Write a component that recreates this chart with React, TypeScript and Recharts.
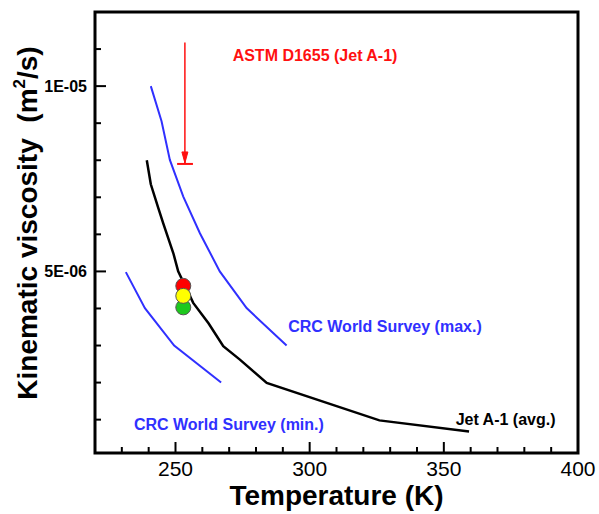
import React from "react";
import {
  Cell,
  ComposedChart,
  Label,
  Line,
  ReferenceArea,
  ReferenceDot,
  Scatter,
  XAxis,
  YAxis
} from "recharts";

const FONT = '"Liberation Sans", Arial, Helvetica, sans-serif';
const BLUE = "#3030ff";
const RED = "#ff1010";

// temperature (K) vs kinematic viscosity (m^2/s)
const jetA1Avg = [
  { T: 239.3, v: 8.0e-6 },
  { T: 240.8, v: 7.35e-6 },
  { T: 243.6, v: 6.71e-6 },
  { T: 245.4, v: 6.3e-6 },
  { T: 249.2, v: 5.49e-6 },
  { T: 251.0, v: 5.0e-6 },
  { T: 256.6, v: 4.15e-6 },
  { T: 262.3, v: 3.6e-6 },
  { T: 267.8, v: 2.98e-6 },
  { T: 274.0, v: 2.62e-6 },
  { T: 284.0, v: 1.99e-6 },
  { T: 326.0, v: 0.98e-6 },
  { T: 359.4, v: 0.68e-6 }
];

const crcMax = [
  { T: 240.8, v: 10.0e-6 },
  { T: 244.8, v: 9.05e-6 },
  { T: 247.9, v: 8.01e-6 },
  { T: 252.9, v: 7.02e-6 },
  { T: 259.1, v: 6.03e-6 },
  { T: 266.5, v: 5.0e-6 },
  { T: 276.5, v: 4.01e-6 },
  { T: 291.4, v: 3.0e-6 }
];

const crcMin = [
  { T: 231.5, v: 4.98e-6 },
  { T: 238.6, v: 4.01e-6 },
  { T: 249.5, v: 3.0e-6 },
  { T: 267.0, v: 2.0e-6 }
];

const astmArrow = [
  { T: 253.5, v: 11.18e-6 },
  { T: 253.5, v: 7.9e-6 }
];

const astmLimit = [
  { T: 250.6, v: 7.9e-6 },
  { T: 256.5, v: 7.9e-6 }
];

// red, green, yellow (yellow drawn last, on top)
const samples = [
  { T: 252.9, v: 4.61e-6 },
  { T: 252.9, v: 4.03e-6 },
  { T: 252.9, v: 4.34e-6 }
];
const sampleColors = ["#ff0000", "#1ec81e", "#ffff00"];

const xTicks = [230, 240, 250, 260, 270, 280, 290, 300, 310, 320, 330, 340, 350, 360, 370, 380, 390, 400];
const xMajorTicks = [250, 300, 350, 400];
const yTicks = [1e-6, 2e-6, 3e-6, 4e-6, 5e-6, 6e-6, 7e-6, 8e-6, 9e-6, 1e-5, 1.1e-5];
const yMajorTicks = [5e-6, 1e-5];
const yMajorLabels = ["5E-06", "1E-05"];

const annotations = [
  { text: "ASTM D1655 (Jet A-1)", T: 271.3, v: 10.82e-6, color: RED },
  { text: "CRC World Survey (max.)", T: 292.0, v: 3.515e-6, color: BLUE },
  { text: "CRC World Survey (min.)", T: 234.5, v: 0.882e-6, color: BLUE },
  { text: "Jet A-1 (avg.)", T: 354.4, v: 1.0e-6, color: "#000" }
];

function XTick({ x, y, payload }: any) {
  const major = xMajorTicks.includes(payload.value);
  return (
    <g>
      <line x1={x} y1={y} x2={x} y2={y - (major ? 11 : 6)} stroke="#000" strokeWidth={2} />
      {major && (
        <text x={x} y={y + 23} textAnchor="middle" fontSize={21} fontFamily={FONT} fill="#000">
          {payload.value}
        </text>
      )}
    </g>
  );
}

function YTick({ x, y, payload }: any) {
  const idx = yMajorTicks.findIndex((t) => Math.abs(t - payload.value) < 1e-12);
  const major = idx >= 0;
  return (
    <g>
      <line x1={x} y1={y} x2={x + (major ? 11 : 6)} y2={y} stroke="#000" strokeWidth={2} />
      {major && (
        <text x={x - 8} y={y + 5.5} textAnchor="end" fontSize={16} fontWeight="bold" fontFamily={FONT} fill="#000">
          {yMajorLabels[idx]}
        </text>
      )}
    </g>
  );
}

function XTitle({ viewBox }: any) {
  return (
    <text
      x={viewBox.x + viewBox.width / 2}
      y={viewBox.y + 52}
      textAnchor="middle"
      fontSize={28}
      fontWeight="bold"
      fontFamily={FONT}
      fill="#000"
    >
      Temperature (K)
    </text>
  );
}

function YTitle({ viewBox }: any) {
  const cx = viewBox.x + 37;
  const cy = viewBox.y + 211;
  return (
    <text
      x={cx}
      y={cy}
      transform={`rotate(-90, ${cx}, ${cy})`}
      textAnchor="middle"
      fontSize={28}
      fontWeight="bold"
      fontFamily={FONT}
      fill="#000"
      style={{ whiteSpace: "pre" }}
    >
      Kinematic viscosity{"  "}(m
      <tspan dy={-12} fontSize={17}>2</tspan>
      <tspan dy={12}>/s)</tspan>
    </text>
  );
}

function ArrowHead(props: any) {
  const { cx, cy, index } = props;
  if (index !== 1) return <g key={`a${index}`} />;
  return (
    <path
      key={`a${index}`}
      d={`M${cx - 3},${cy - 12} L${cx + 3},${cy - 12} L${cx},${cy - 1} Z`}
      fill={RED}
      stroke={RED}
      strokeWidth={1}
    />
  );
}

function SampleDot(props: any) {
  const { cx, cy, fill } = props;
  return <circle cx={cx} cy={cy} r={7.5} fill={fill} stroke="#555" strokeWidth={1} />;
}

export default function App() {
  return (
    <div style={{ position: "absolute", left: 0, top: 0, background: "#fff" }}>
      <ComposedChart width={599} height={514} margin={{ top: 12, right: 21, left: 0, bottom: 0 }}>
        <XAxis
          type="number"
          dataKey="T"
          domain={[220, 400]}
          ticks={xTicks}
          interval={0}
          allowDataOverflow
          axisLine={false}
          tickLine={false}
          tickSize={0}
          tickMargin={0}
          height={61}
          tick={<XTick />}
          label={<Label content={<XTitle />} />}
        />
        <YAxis
          type="number"
          dataKey="v"
          domain={[1e-7, 1.2e-5]}
          ticks={yTicks}
          interval={0}
          allowDataOverflow
          axisLine={false}
          tickLine={false}
          tickSize={0}
          tickMargin={0}
          width={95}
          tick={<YTick />}
          label={<Label content={<YTitle />} />}
        />
        <ReferenceArea x1={220} x2={400} y1={1e-7} y2={1.2e-5} fill="none" stroke="#000" strokeWidth={3} />
        <Line data={crcMax} dataKey="v" type="linear" stroke={BLUE} strokeWidth={2} dot={false} activeDot={false} isAnimationActive={false} />
        <Line data={crcMin} dataKey="v" type="linear" stroke={BLUE} strokeWidth={2} dot={false} activeDot={false} isAnimationActive={false} />
        <Line data={jetA1Avg} dataKey="v" type="linear" stroke="#000" strokeWidth={2.5} dot={false} activeDot={false} isAnimationActive={false} />
        <Line data={astmArrow} dataKey="v" type="linear" stroke={RED} strokeWidth={1.5} dot={<ArrowHead />} activeDot={false} isAnimationActive={false} />
        <Line data={astmLimit} dataKey="v" type="linear" stroke={RED} strokeWidth={2} dot={false} activeDot={false} isAnimationActive={false} />
        <Scatter data={samples} dataKey="v" shape={<SampleDot />} isAnimationActive={false}>
          {samples.map((_, i) => (
            <Cell key={i} fill={sampleColors[i]} />
          ))}
        </Scatter>
        {annotations.map((a) => (
          <ReferenceDot
            key={a.text}
            x={a.T}
            y={a.v}
            r={0}
            fill="none"
            stroke="none"
            label={{
              value: a.text,
              position: "right",
              offset: 0,
              fill: a.color,
              fontSize: 16,
              fontWeight: "bold",
              fontFamily: FONT
            }}
          />
        ))}
      </ComposedChart>
    </div>
  );
}
